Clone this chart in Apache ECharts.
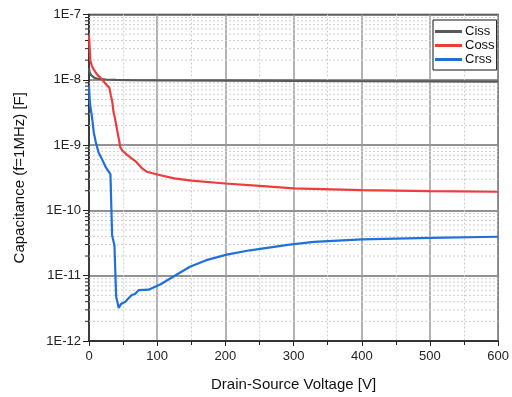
<!DOCTYPE html>
<html>
<head>
<meta charset="utf-8">
<script src="https://cdn.jsdelivr.net/npm/echarts@6/dist/echarts.min.js"></script>
<style>html,body{margin:0;padding:0;background:#fff}#c{width:512px;height:397px}</style>
</head>
<body>
<div id="c"></div>
<script>
// ---- data ----
const cissV = [0, 1, 3, 5, 8, 14, 25, 40, 60, 100, 200, 300, 400, 500, 600];
const cissC = [1.5e-8, 1.3e-8, 1.18e-8, 1.12e-8, 1.07e-8, 1.03e-8, 1.01e-8, 1.0e-8, 9.9e-9, 9.8e-9, 9.7e-9, 9.6e-9, 9.5e-9, 9.45e-9, 9.4e-9];

const cossV = [0, 1, 2, 4, 7, 12, 17, 24, 30, 32, 34, 36, 38, 41, 44, 46, 49, 55, 62, 68, 73, 78, 85, 100, 125, 150, 200, 250, 300, 400, 500, 600];
const cossC = [4.8e-8, 3.0e-8, 2.0e-8, 1.65e-8, 1.43e-8, 1.2e-8, 1.07e-8, 8.8e-9, 7.5e-9, 5.8e-9, 4.7e-9, 3.2e-9, 2.6e-9, 1.75e-9, 1.2e-9, 9.2e-10, 8.2e-10, 7.2e-10, 6.3e-10, 5.7e-10, 5.0e-10, 4.4e-10, 3.9e-10, 3.55e-10, 3.1e-10, 2.85e-10, 2.58e-10, 2.38e-10, 2.18e-10, 2.05e-10, 1.98e-10, 1.93e-10];

const crssV = [0, 1, 2, 3.5, 5, 7, 10, 14, 19, 25, 31.4, 33.9, 37.3, 39.8, 43.6, 47, 53.4, 58, 63.2, 67, 72.8, 87.4, 97, 105, 124, 148, 172, 202, 236, 294, 330, 400, 500, 600];
const crssC = [8e-9, 5.0e-9, 3.9e-9, 3.1e-9, 2.4e-9, 1.56e-9, 1.1e-9, 7.7e-10, 6.1e-10, 4.5e-10, 3.6e-10, 4.15e-11, 2.9e-11, 4.8e-12, 3.2e-12, 3.7e-12, 4.0e-12, 4.5e-12, 5.1e-12, 5.2e-12, 6.0e-12, 6.1e-12, 6.8e-12, 7.4e-12, 9.7e-12, 1.37e-11, 1.73e-11, 2.1e-11, 2.45e-11, 3.0e-11, 3.3e-11, 3.6e-11, 3.8e-11, 3.95e-11];

const seriesNames = ['Ciss', 'Coss', 'Crss'];
const xTicks = [0, 100, 200, 300, 400, 500, 600];
const decades = [-12, -11, -10, -9, -8];
const minorMultipliers = [2, 3, 4, 5, 6, 7, 8, 9];

// ---- build ----
const zip = (xs, ys) => xs.map((x, i) => [x, ys[i]]);
const minorValues = [];
decades.forEach(d => minorMultipliers.forEach(m => minorValues.push([0, m * Math.pow(10, d)])));

const chart = echarts.init(document.getElementById('c'), null, {renderer: 'canvas'});
const FONT = 'Liberation Sans, Arial, sans-serif';

chart.setOption({
  animation: false,
  grid: {left: 89, right: 13, top: 14.5, bottom: 54, show: true, borderColor: '#333', borderWidth: 1.5},
  legend: {
    data: seriesNames,
    orient: 'vertical',
    left: 433, top: 20,
    backgroundColor: '#fff',
    borderColor: '#111', borderWidth: 1,
    padding: [5, 2, 4, 2],
    itemGap: 1,
    itemWidth: 27, itemHeight: 3,
    icon: 'rect',
    textStyle: {fontFamily: FONT, fontSize: 13, color: '#111', padding: [0, 0, 0, -2]}
  },
  xAxis: {
    type: 'value', min: 0, max: 600, interval: 100,
    name: 'Drain-Source Voltage [V]', nameLocation: 'middle', nameGap: 36,
    nameTextStyle: {fontFamily: FONT, fontSize: 15, color: '#111'},
    axisLine: {show: true, onZero: false, lineStyle: {color: '#222', width: 1.5}},
    axisTick: {show: true, inside: false, length: 5, lineStyle: {color: '#222'}},
    minorTick: {show: true, splitNumber: 2, length: 4, lineStyle: {color: '#222'}},
    axisLabel: {fontFamily: FONT, fontSize: 13, color: '#222', margin: 9},
    splitLine: {show: true, lineStyle: {color: '#9a9a9a', width: 1.5}},
    minorSplitLine: {show: true, lineStyle: {color: '#cfcfcf', width: 1, type: [2, 2]}}
  },
  yAxis: {
    type: 'log', logBase: 10, min: 1e-12, max: 1e-7,
    name: 'Capacitance (f=1MHz) [F]', nameLocation: 'middle', nameGap: 62,
    nameTextStyle: {fontFamily: FONT, fontSize: 15, color: '#111'},
    axisLine: {show: true, lineStyle: {color: '#222', width: 1.5}},
    axisTick: {show: true, inside: false, length: 6, lineStyle: {color: '#222'}},
    axisLabel: {
      fontFamily: FONT, fontSize: 13, color: '#222', margin: 8,
      formatter: v => '1E' + Math.round(Math.log10(v))
    },
    splitLine: {show: true, lineStyle: {color: '#6e6e6e', width: 1.5}}
  },
  series: [
    {
      name: 'minor', type: 'custom', silent: true, clip: false, z: 1,
      data: minorValues,
      encode: {x: 0, y: 1},
      renderItem: (params, api) => {
        const p0 = api.coord([0, api.value(1)]);
        const p1 = api.coord([600, api.value(1)]);
        return {
          type: 'group',
          children: [
            {type: 'line', shape: {x1: p0[0], y1: p0[1], x2: p1[0], y2: p1[1]},
             style: {stroke: '#cfcfcf', lineWidth: 1, lineDash: [2, 2]}},
            {type: 'line', shape: {x1: p0[0] - 4, y1: p0[1], x2: p0[0], y2: p0[1]},
             style: {stroke: '#222', lineWidth: 1}}
          ]
        };
      }
    },
    {name: 'Ciss', type: 'line', data: zip(cissV, cissC), showSymbol: false, z: 3,
     lineStyle: {color: '#595959', width: 2.2}, itemStyle: {color: '#595959'}},
    {name: 'Coss', type: 'line', data: zip(cossV, cossC), showSymbol: false, z: 3,
     lineStyle: {color: '#ee3b3b', width: 2.2}, itemStyle: {color: '#ee3b3b'}},
    {name: 'Crss', type: 'line', data: zip(crssV, crssC), showSymbol: false, z: 3,
     lineStyle: {color: '#1f6fdc', width: 2.2}, itemStyle: {color: '#1f6fdc'}}
  ]
});
</script>
</body>
</html>
